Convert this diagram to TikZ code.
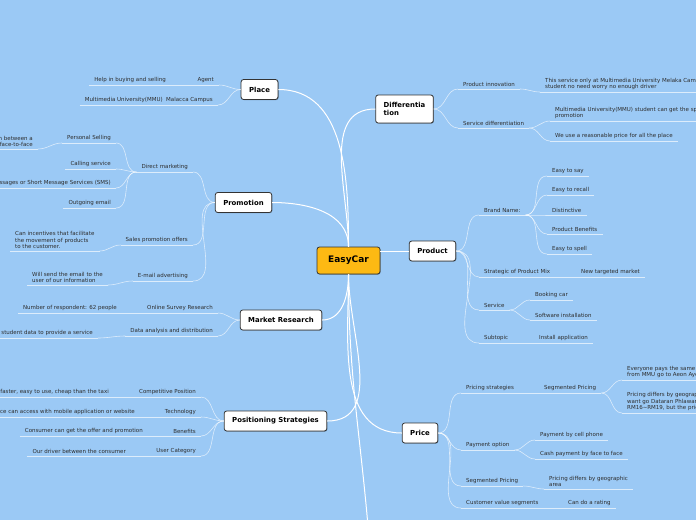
\documentclass[tikz,border=0pt]{standalone}
\usepackage{xcolor}
\usepackage{fontspec}
\setmainfont{DejaVu Sans}
\usepackage{tikz}
\usetikzlibrary{shadows}
\definecolor{canvas}{RGB}{155,201,245}
\definecolor{centre}{RGB}{253,185,19}
\definecolor{border}{RGB}{51,51,51}
\definecolor{leaftext}{RGB}{45,45,45}

\tikzset{
  topic/.style={draw=border, fill=white, line width=0.8pt, rounded corners=2.5pt,
    minimum height=20pt, inner xsep=8pt, font=\bfseries\fontsize{6.9}{8}\selectfont,
    drop shadow={shadow xshift=0.6pt, shadow yshift=-0.6pt, opacity=0.35, fill=black}},
  twig/.style={draw=white, draw opacity=0.65, line width=0.6pt},
  trunk/.style={draw=white, line width=1pt},
  leaf/.style={font=\fontsize{5.5}{6.6}\selectfont, text=leaftext, inner xsep=5pt,
    inner ysep=1.8pt, align=left,
    append after command={(\tikzlastnode.south west) edge[twig] (\tikzlastnode.south east)}},
  lleaf/.style={leaf, anchor=south east},
  rleaf/.style={leaf, anchor=south west}
}

\begin{document}
\begin{tikzpicture}[x=1pt,y=1pt]
\useasboundingbox (0,0) rectangle (696,-520);
\fill[canvas] (0,0) rectangle (696,-520);

\node[topic, fill=centre, font=\bfseries\fontsize{9}{10}\selectfont, minimum width=63pt, minimum height=27pt] (easycar) at (348.5,-260.5) {EasyCar};
\node[topic] (place) at (259.5,-89.5) {Place};
\node[topic, align=left, minimum height=28pt] (diff) at (404.5,-109) {Differentia\\tion};
\node[topic] (promotion) at (243.5,-202.5) {Promotion};
\node[topic] (market) at (281,-320) {Market Research};
\node[topic] (positioning) at (275.5,-421) {Positioning Strategies};
\node[topic] (product) at (432.5,-251) {Product};
\node[topic] (price) at (420,-433) {Price};

\coordinate (offpage) at (368,-526);
\draw[trunk] (place.east) to[out=0,in=90] (easycar.north);
\draw[trunk] (easycar.north) to[out=90,in=180] (diff.west);
\draw[trunk] (promotion.east) to[out=0,in=90] (easycar.north);
\draw[trunk] (easycar.east |- product.west) -- (product.west);
\draw[trunk] (market.east) to[out=0,in=-90] (easycar.south);
\draw[trunk] (positioning.east) to[out=0,in=-90] (easycar.south);
\draw[trunk] (easycar.south) to[out=-90,in=180] (price.west);
\draw[trunk] (easycar.south) to[out=-90,in=95] (offpage);

% Place
\node[lleaf] (agent) at (219,-85) {Agent};
\node[lleaf] (agentc) at (171,-85) {Help in buying and selling};
\node[lleaf] (campus) at (218,-105) {Multimedia University(MMU)\ \ Malacca Campus};
\draw[twig] (place.west) to[out=180,in=0] (agent.south east);
\draw[twig] (place.west) to[out=180,in=0] (campus.south east);
\draw[twig] (agent.south west) -- (agentc.south east);

% Promotion
\node[lleaf] (direct) at (193,-172) {Direct marketing};
\node[lleaf] (personal) at (116,-143) {Personal Selling};
\node[lleaf, align=right] (personalc) at (38,-149) {n between a\\face-to-face};
\node[lleaf] (calling) at (116,-169) {Calling service};
\node[lleaf] (sms) at (116,-188) {ssages or Short Message Services (SMS)};
\node[lleaf] (outgoing) at (116,-208) {Outgoing email};
\node[lleaf] (sales) at (193,-245) {Sales promotion offers};
\node[rleaf] (salesc) at (10,-251) {Can incentives that facilitate\\the movement of products\\to the customer.};
\node[lleaf] (email) at (193,-281) {E-mail advertising};
\node[rleaf] (emailc) at (27,-285) {Will send the email to the\\user of our information};
\draw[twig] (promotion.west) to[out=180,in=0] (direct.south east);
\draw[twig] (promotion.west) to[out=180,in=0] (sales.south east);
\draw[twig] (promotion.west) to[out=180,in=0] (email.south east);
\draw[twig] (direct.south west) to[out=180,in=0] (personal.south east);
\draw[twig] (direct.south west) to[out=180,in=0] (calling.south east);
\draw[twig] (direct.south west) to[out=180,in=0] (sms.south east);
\draw[twig] (direct.south west) to[out=180,in=0] (outgoing.south east);
\draw[twig] (personal.south west) to[out=180,in=0] (personalc.south east);
\draw[twig] (sales.south west) to[out=180,in=0] (salesc.south east);
\draw[twig] (email.south west) to[out=180,in=0] (emailc.south east);

% Market Research
\node[lleaf] (survey) at (218,-313) {Online Survey Research};
\node[lleaf] (surveyc) at (122,-313) {Number of respondent: 62 people};
\node[lleaf] (data) at (218,-336) {Data analysis and distribution};
\node[lleaf] (datac) at (98,-338) {student data to provide a service};
\draw[twig] (market.west) to[out=180,in=0] (survey.south east);
\draw[twig] (market.west) to[out=180,in=0] (data.south east);
\draw[twig] (survey.south west) -- (surveyc.south east);
\draw[twig] (data.south west) to[out=180,in=0] (datac.south east);

% Positioning Strategies
\node[lleaf] (compet) at (201,-397) {Competitive Position};
\node[lleaf] (competc) at (114,-397) {faster, easy to use, cheap than the taxi};
\node[lleaf] (tech) at (201,-417) {Technology};
\node[lleaf] (techc) at (140,-417) {ice can access with mobile application or website};
\node[lleaf] (benefit) at (201,-436) {Benefits};
\node[lleaf] (benefitc) at (148,-436) {Consumer can get the offer and promotion};
\node[lleaf] (usercat) at (201,-456) {User Category};
\node[lleaf] (usercatc) at (131,-456) {Our driver between the consumer};
\foreach \t in {compet,tech,benefit,usercat}{
  \draw[twig] (positioning.west) to[out=180,in=0] (\t.south east);
  \draw[twig] (\t.south west) -- (\t c.south east);
}

% Differentiation
\node[rleaf] (innov) at (458,-89) {Product innovation};
\node[rleaf] (innovc) at (540,-92) {This service only at Multimedia University Melaka Campus,\\student no need worry no enough driver};
\node[rleaf] (servd) at (458,-128) {Service differentiation};
\node[rleaf] (servda) at (550,-121) {Multimedia University(MMU) student can get the special\\promotion};
\node[rleaf] (servdb) at (550,-141) {We use a reasonable price for all the place};
\draw[twig] (diff.east) to[out=0,in=180] (innov.south west);
\draw[twig] (diff.east) to[out=0,in=180] (servd.south west);
\draw[twig] (innov.south east) to[out=0,in=180] (innovc.south west);
\draw[twig] (servd.south east) to[out=0,in=180] (servda.south west);
\draw[twig] (servd.south east) to[out=0,in=180] (servdb.south west);

% Product
\node[rleaf] (brand) at (479,-215) {Brand Name:};
\node[rleaf] (say) at (547,-176) {Easy to say};
\node[rleaf] (recall) at (547,-195) {Easy to recall};
\node[rleaf] (distinct) at (547,-215) {Distinctive};
\node[rleaf] (benefits) at (547,-234) {Product Benefits};
\node[rleaf] (spell) at (547,-254) {Easy to spell};
\node[rleaf] (mix) at (479,-277) {Strategic of Product Mix};
\node[rleaf] (newmarket) at (576,-277) {New targeted market};
\node[rleaf] (service) at (479,-310) {Service};
\node[rleaf] (booking) at (530,-300) {Booking car};
\node[rleaf] (software) at (530,-320) {Software installation};
\node[rleaf] (subtopic) at (479,-343) {Subtopic};
\node[rleaf] (install) at (534,-343) {Install application};
\foreach \t in {brand,mix,service,subtopic}
  \draw[twig] (product.east) to[out=0,in=180] (\t.south west);
\foreach \t in {say,recall,distinct,benefits,spell}
  \draw[twig] (brand.south east) to[out=0,in=180] (\t.south west);
\draw[twig] (mix.south east) -- (newmarket.south west);
\draw[twig] (service.south east) to[out=0,in=180] (booking.south west);
\draw[twig] (service.south east) to[out=0,in=180] (software.south west);
\draw[twig] (subtopic.south east) -- (install.south west);

% Price
\node[rleaf] (strat) at (461,-393) {Pricing strategies};
\node[rleaf] (segp) at (539,-393) {Segmented Pricing};
\node[rleaf] (same) at (622,-380) {Everyone pays the same price\\from MMU go to Aeon Ayer Keroh};
\node[rleaf] (differs) at (622,-413) {Pricing differs by geographic area,\\want go Dataran Phlawan will be\\RM16\textasciitilde RM19, but the price};
\node[rleaf] (payment) at (461,-450) {Payment option};
\node[rleaf] (cell) at (535,-440) {Payment by cell phone};
\node[rleaf] (cash) at (535,-459) {Cash payment by face to face};
\node[rleaf] (segpb) at (461,-486) {Segmented Pricing};
\node[rleaf] (geo) at (544,-489) {Pricing differs by geographic\\area};
\node[rleaf] (custval) at (461,-508) {Customer value segments};
\node[rleaf] (rating) at (563,-508) {Can do a rating};
\foreach \t in {strat,payment,segpb,custval}
  \draw[twig] (price.east) to[out=0,in=180] (\t.south west);
\draw[twig] (strat.south east) -- (segp.south west);
\draw[twig] (segp.south east) to[out=0,in=180] (same.south west);
\draw[twig] (segp.south east) to[out=0,in=180] (differs.south west);
\draw[twig] (payment.south east) to[out=0,in=180] (cell.south west);
\draw[twig] (payment.south east) to[out=0,in=180] (cash.south west);
\draw[twig] (segpb.south east) to[out=0,in=180] (geo.south west);
\draw[twig] (custval.south east) -- (rating.south west);
\end{tikzpicture}
\end{document}
